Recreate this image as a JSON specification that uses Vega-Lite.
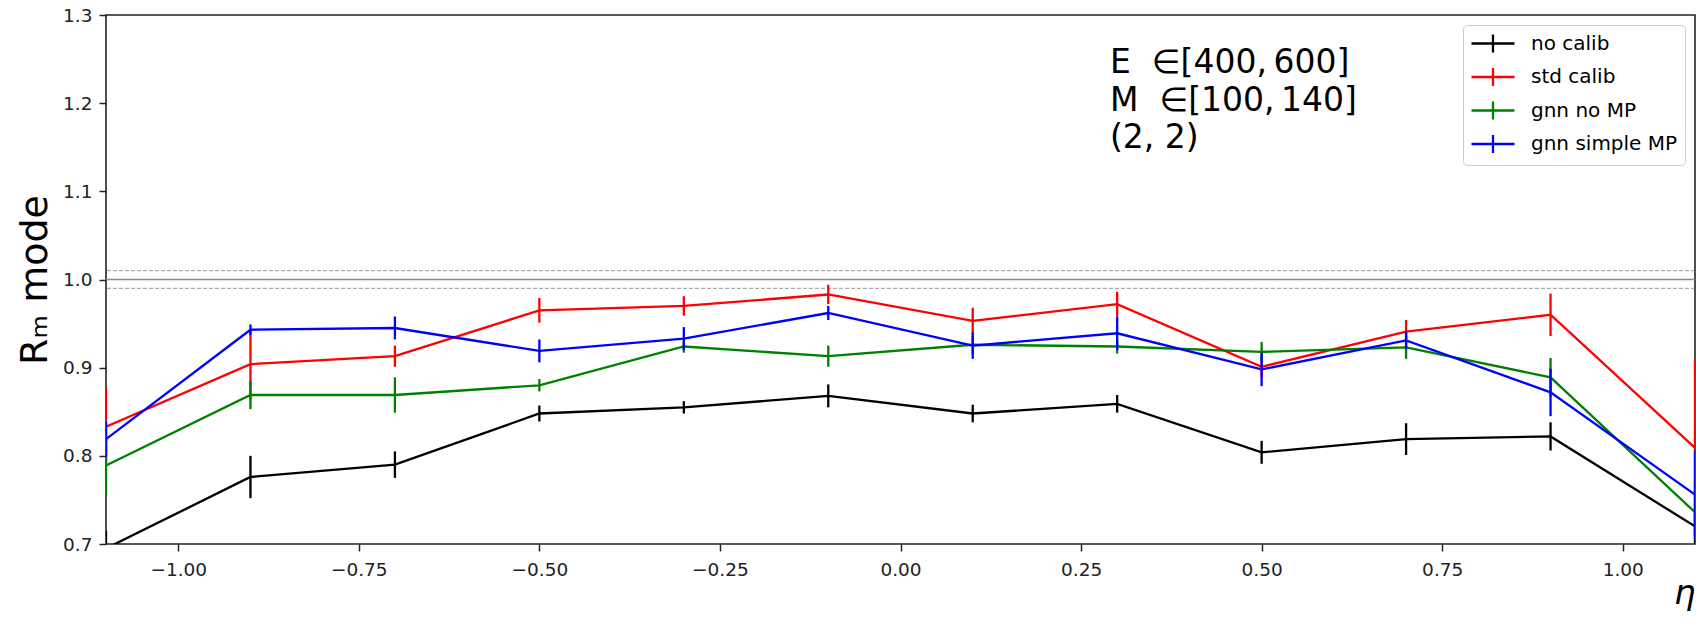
{
  "$schema": "https://vega.github.io/schema/vega-lite/v6.json",
  "autosize": {"type": "none"},
  "width": 1589,
  "height": 529,
  "padding": {"left": 106, "top": 15, "right": 1, "bottom": 76},
  "background": "white",
  "datasets": {
    "series": [
      {"eta": -1.1, "v": 0.695, "err": 0.02, "s": "no calib"},
      {"eta": -0.9, "v": 0.776, "err": 0.024, "s": "no calib"},
      {"eta": -0.7, "v": 0.790, "err": 0.015, "s": "no calib"},
      {"eta": -0.5, "v": 0.848, "err": 0.009, "s": "no calib"},
      {"eta": -0.3, "v": 0.855, "err": 0.007, "s": "no calib"},
      {"eta": -0.1, "v": 0.868, "err": 0.013, "s": "no calib"},
      {"eta": 0.1, "v": 0.848, "err": 0.010, "s": "no calib"},
      {"eta": 0.3, "v": 0.859, "err": 0.010, "s": "no calib"},
      {"eta": 0.5, "v": 0.804, "err": 0.013, "s": "no calib"},
      {"eta": 0.7, "v": 0.819, "err": 0.018, "s": "no calib"},
      {"eta": 0.9, "v": 0.822, "err": 0.016, "s": "no calib"},
      {"eta": 1.1, "v": 0.720, "err": 0.02, "s": "no calib"},
      {"eta": -1.1, "v": 0.833, "err": 0.045, "s": "std calib"},
      {"eta": -0.9, "v": 0.904, "err": 0.040, "s": "std calib"},
      {"eta": -0.7, "v": 0.913, "err": 0.012, "s": "std calib"},
      {"eta": -0.5, "v": 0.965, "err": 0.014, "s": "std calib"},
      {"eta": -0.3, "v": 0.970, "err": 0.011, "s": "std calib"},
      {"eta": -0.1, "v": 0.983, "err": 0.011, "s": "std calib"},
      {"eta": 0.1, "v": 0.953, "err": 0.015, "s": "std calib"},
      {"eta": 0.3, "v": 0.972, "err": 0.014, "s": "std calib"},
      {"eta": 0.5, "v": 0.901, "err": 0.012, "s": "std calib"},
      {"eta": 0.7, "v": 0.941, "err": 0.013, "s": "std calib"},
      {"eta": 0.9, "v": 0.960, "err": 0.024, "s": "std calib"},
      {"eta": 1.1, "v": 0.809, "err": 0.10, "s": "std calib"},
      {"eta": -1.1, "v": 0.789, "err": 0.033, "s": "gnn no MP"},
      {"eta": -0.9, "v": 0.869, "err": 0.016, "s": "gnn no MP"},
      {"eta": -0.7, "v": 0.869, "err": 0.020, "s": "gnn no MP"},
      {"eta": -0.5, "v": 0.880, "err": 0.007, "s": "gnn no MP"},
      {"eta": -0.3, "v": 0.924, "err": 0.007, "s": "gnn no MP"},
      {"eta": -0.1, "v": 0.913, "err": 0.012, "s": "gnn no MP"},
      {"eta": 0.1, "v": 0.926, "err": 0.010, "s": "gnn no MP"},
      {"eta": 0.3, "v": 0.924, "err": 0.008, "s": "gnn no MP"},
      {"eta": 0.5, "v": 0.918, "err": 0.011, "s": "gnn no MP"},
      {"eta": 0.7, "v": 0.923, "err": 0.013, "s": "gnn no MP"},
      {"eta": 0.9, "v": 0.889, "err": 0.022, "s": "gnn no MP"},
      {"eta": 1.1, "v": 0.736, "err": 0.03, "s": "gnn no MP"},
      {"eta": -1.1, "v": 0.819, "err": 0.02, "s": "gnn simple MP"},
      {"eta": -0.9, "v": 0.943, "err": 0.006, "s": "gnn simple MP"},
      {"eta": -0.7, "v": 0.945, "err": 0.013, "s": "gnn simple MP"},
      {"eta": -0.5, "v": 0.919, "err": 0.013, "s": "gnn simple MP"},
      {"eta": -0.3, "v": 0.933, "err": 0.013, "s": "gnn simple MP"},
      {"eta": -0.1, "v": 0.962, "err": 0.008, "s": "gnn simple MP"},
      {"eta": 0.1, "v": 0.925, "err": 0.015, "s": "gnn simple MP"},
      {"eta": 0.3, "v": 0.939, "err": 0.019, "s": "gnn simple MP"},
      {"eta": 0.5, "v": 0.898, "err": 0.019, "s": "gnn simple MP"},
      {"eta": 0.7, "v": 0.931, "err": 0.010, "s": "gnn simple MP"},
      {"eta": 0.9, "v": 0.872, "err": 0.027, "s": "gnn simple MP"},
      {"eta": 1.1, "v": 0.756, "err": 0.05, "s": "gnn simple MP"}
    ],
    "labels": [
      {"eta": 0.29, "v": 1.2346, "t": "E\u00a0\u00a0\u2208[400,\u2009600]"},
      {"eta": 0.29, "v": 1.1915, "t": "M\u00a0\u00a0\u2208[100,\u2009140]"},
      {"eta": 0.29, "v": 1.149, "t": "(2, 2)"}
    ],
    "solid": [{"v": 1.0}],
    "dashed": [{"v": 1.01}, {"v": 0.99}]
  },
  "layer": [
    {
      "data": {"name": "solid"},
      "mark": {"type": "rule", "color": "#8c8c8c", "strokeWidth": 1.6},
      "encoding": {
        "y": {"field": "v", "type": "quantitative", "title": "R\u2098 mode", "scale": {"domain": [0.7, 1.3], "nice": false, "zero": false}}
      }
    },
    {
      "data": {"name": "dashed"},
      "mark": {"type": "rule", "color": "#8c8c8c", "strokeWidth": 0.9, "strokeDash": [4, 2]},
      "encoding": {
        "y": {"field": "v", "type": "quantitative", "title": "R\u2098 mode"}
      }
    },
    {
      "data": {"name": "series"},
      "mark": {"type": "line", "strokeWidth": 2.3, "clip": true},
      "encoding": {
        "x": {"field": "eta", "type": "quantitative", "title": "\u03b7",
              "scale": {"domain": [-1.1, 1.1], "nice": false, "zero": false},
              "axis": {"values": [-1, -0.75, -0.5, -0.25, 0, 0.25, 0.5, 0.75, 1], "format": ".2f",
                       "labelPadding": 9, "titleAnchor": "end", "titleFontStyle": "italic", "titleFontSize": 34, "titlePadding": -2}},
        "y": {"field": "v", "type": "quantitative", "title": "R\u2098 mode",
              "axis": {"values": [0.7, 0.8, 0.9, 1.0, 1.1, 1.2, 1.3], "format": ".1f", "labelPadding": 7, "titleFontSize": 38, "titlePadding": 8}},
        "color": {"field": "s", "type": "nominal",
                  "scale": {"domain": ["no calib", "std calib", "gnn no MP", "gnn simple MP"], "range": ["#000000", "#ff0000", "#008000", "#0000ff"]},
                  "legend": {"title": null, "orient": "top-right", "offset": 10}},
        "order": {"field": "eta", "type": "quantitative"}
      }
    },
    {
      "data": {"name": "series"},
      "mark": {"type": "errorbar", "rule": {"strokeWidth": 2.3}, "clip": true},
      "encoding": {
        "x": {"field": "eta", "type": "quantitative", "title": "\u03b7"},
        "y": {"field": "v", "type": "quantitative", "title": "R\u2098 mode"},
        "yError": {"field": "err"},
        "color": {"field": "s", "type": "nominal"}
      }
    },
    {
      "data": {"name": "labels"},
      "mark": {"type": "text", "align": "left", "baseline": "alphabetic", "fontSize": 33, "font": "DejaVu Sans", "color": "#000"},
      "encoding": {
        "x": {"field": "eta", "type": "quantitative", "title": "\u03b7"},
        "y": {"field": "v", "type": "quantitative", "title": "R\u2098 mode"},
        "text": {"field": "t"}
      }
    }
  ],
  "config": {
    "font": "DejaVu Sans",
    "view": {"stroke": "#222", "strokeWidth": 1.6},
    "axis": {"domain": false, "grid": false, "tickColor": "#222", "tickWidth": 1.5, "tickSize": 7,
             "labelColor": "#222", "labelFontSize": 18.5, "labelFont": "DejaVu Sans",
             "titleFont": "DejaVu Sans", "titleColor": "#000", "titleFontWeight": "normal"},
    "legend": {"strokeColor": "#cccccc", "fillColor": "white", "padding": 7, "cornerRadius": 4,
               "labelFontSize": 20, "labelFont": "DejaVu Sans", "labelColor": "#000",
               "symbolType": "M-1,0L3.3,0M1.15,-0.9L1.15,0.9", "symbolSize": 400, "symbolStrokeWidth": 2.3,
               "symbolFillColor": "transparent", "labelOffset": 38, "rowPadding": 4.5}
  }
}
